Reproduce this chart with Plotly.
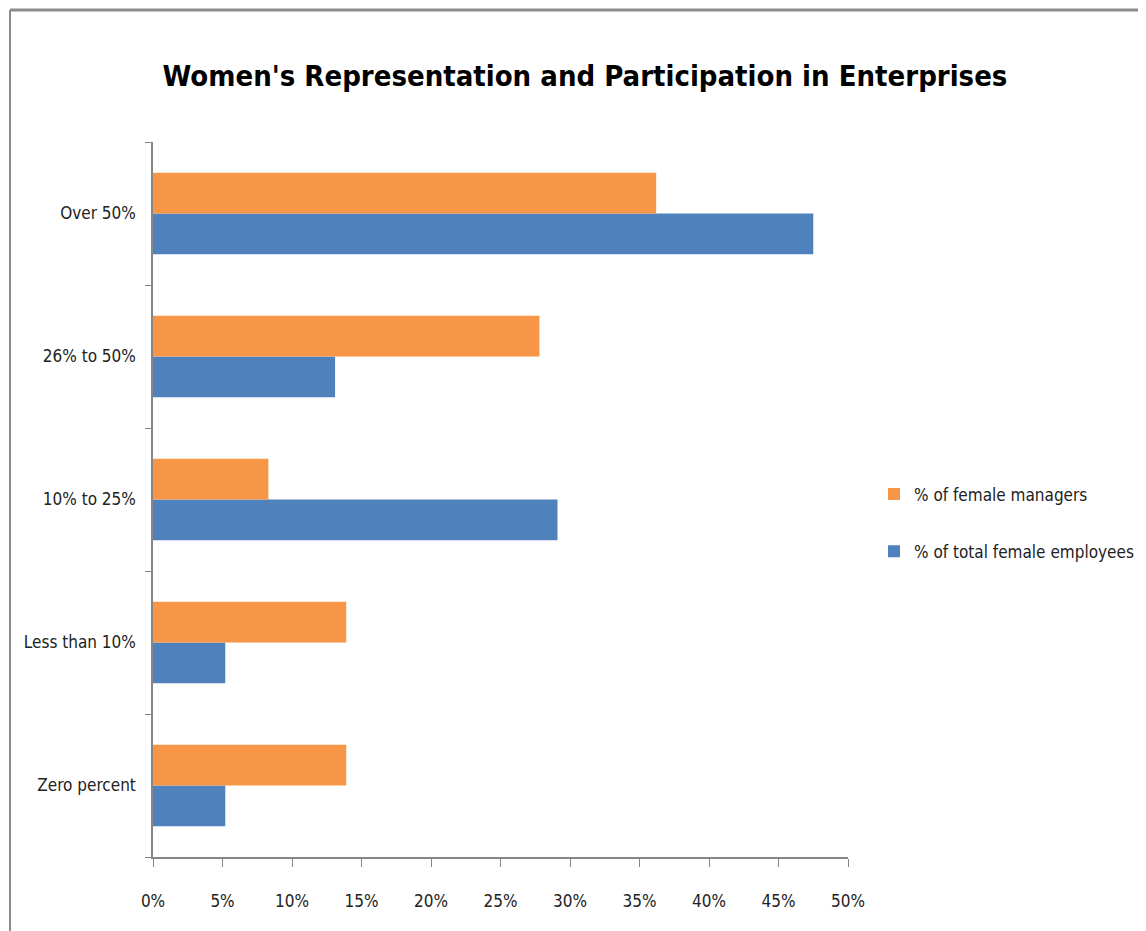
import plotly.graph_objects as go

# categories listed bottom -> top
categories = ["Zero percent", "Less than 10%", "10% to 25%", "26% to 50%", "Over 50%"]
female_managers = [0.139, 0.139, 0.083, 0.278, 0.362]
total_female_employees = [0.052, 0.052, 0.291, 0.131, 0.475]
x_ticks = [0, 0.05, 0.10, 0.15, 0.20, 0.25, 0.30, 0.35, 0.40, 0.45, 0.50]

ORANGE = "#F79646"
BLUE = "#4F81BD"
FONT = "DejaVu Sans Condensed, Liberation Sans Narrow, sans-serif"

# page body adds an 8px margin, so figure coords = screen coords - 8
OFF = 8
W, H = 1146 - OFF, 931 - OFF
L, R, T, B = 153 - OFF, 4, 142 - OFF, 74
plot_right = 848 - OFF  # pixel where 50% sits

fig = go.Figure()
fig.add_trace(
    go.Bar(
        y=categories,
        x=total_female_employees,
        orientation="h",
        name="% of total female employees",
        marker={"color": BLUE, "line": {"width": 0}},
        legendrank=2,
        legendgroup="emp",
    )
)
fig.add_trace(
    go.Bar(
        y=categories,
        x=female_managers,
        orientation="h",
        name="% of female managers",
        marker={"color": ORANGE, "line": {"width": 0}},
        legendrank=1,
        legendgroup="mgr",
    )
)

paper_w = W - L - R
plot_h = H - T - B

fig.update_layout(
    width=W,
    height=H,
    margin={"l": L, "r": R, "t": T, "b": B, "autoexpand": False},
    paper_bgcolor="white",
    plot_bgcolor="white",
    barmode="group",
    bargap=0.43,
    bargroupgap=0,
    font={"family": FONT, "size": 17, "color": "#222"},
    title={
        "text": "<b>Women's Representation and Participation in Enterprises</b>",
        "x": (585 - OFF) / W,
        "xanchor": "center",
        "y": 1 - (76 - OFF) / H,
        "yanchor": "middle",
        "font": {"size": 29, "color": "black", "family": FONT},
    },
    legend={
        "x": (874 - OFF - L) / paper_w,
        "xanchor": "left",
        "y": (H - B - (523 - OFF)) / plot_h,
        "yanchor": "middle",
        "font": {"size": 17},
        "tracegroupgap": 32,
        "itemwidth": 30,
        "bgcolor": "rgba(0,0,0,0)",
    },
    xaxis={
        "domain": [0, (plot_right - L) / paper_w],
        "range": [0, 0.5],
        "tickvals": x_ticks,
        "tickformat": ".0%",
        "showgrid": False,
        "zeroline": False,
        "showline": True,
        "linecolor": "#868686",
        "linewidth": 1.5,
        "ticks": "outside",
        "ticklen": 8,
        "tickcolor": "#868686",
        "ticklabelstandoff": 20,
    },
    yaxis={
        "categoryorder": "array",
        "categoryarray": categories,
        "range": [-0.5, 4.5],
        "tickson": "boundaries",
        "ticks": "outside",
        "ticklen": 6,
        "tickcolor": "#868686",
        "showline": True,
        "linecolor": "#868686",
        "linewidth": 1.5,
        "showgrid": False,
        "zeroline": False,
        "ticklabelstandoff": 12,
    },
)

# outer chart frame (top and left edges visible in the reference)
frame_x = (10 - OFF - L) / paper_w
frame_y = (H - B - (10 - OFF)) / plot_h
fig.add_shape(
    type="line",
    xref="paper",
    yref="paper",
    x0=frame_x,
    x1=(W - L) / paper_w,
    y0=frame_y,
    y1=frame_y,
    line={"color": "#8c8c8c", "width": 3},
)
fig.add_shape(
    type="line",
    xref="paper",
    yref="paper",
    x0=frame_x,
    x1=frame_x,
    y0=frame_y,
    y1=-B / plot_h,
    line={"color": "#8c8c8c", "width": 2},
)

fig.write_html("out.html")
